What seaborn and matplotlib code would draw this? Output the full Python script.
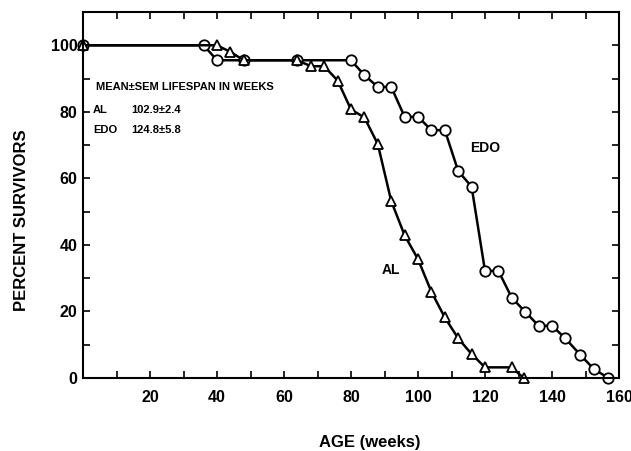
import matplotlib
matplotlib.use("Agg")
import matplotlib.pyplot as plt
import seaborn as sns
import pandas as pd

# Data
al_weeks = [0, 40, 44, 48, 64, 68, 72, 76, 80, 84, 88, 92, 96, 100, 104, 108, 112, 116, 120, 128, 131.5]
al_pct = [100, 100, 98, 95.5, 95.5, 93.7, 93.7, 89.4, 80.7, 78.3, 70.3, 53.2, 42.9, 35.7, 25.9, 18.2, 11.9, 7.2, 3.2, 3.2, 0]

edo_weeks = [0, 36, 40, 48, 64, 80, 84, 88, 92, 96, 100, 104, 108, 112, 116, 120, 124, 128, 132, 136, 140, 144, 148.5, 152.5, 156.8]
edo_pct = [100, 100, 95.5, 95.5, 95.5, 95.5, 91.0, 87.5, 87.5, 78.5, 78.5, 74.5, 74.5, 62.2, 57.5, 32.2, 32.2, 24.1, 19.9, 15.7, 15.7, 11.9, 6.9, 2.7, 0]

x_ticks = [0, 10, 20, 30, 40, 50, 60, 70, 80, 90, 100, 110, 120, 130, 140, 150, 160]
x_ticklabels = ["", "", "20", "", "40", "", "60", "", "80", "", "100", "", "120", "", "140", "", "160"]
y_ticks = [0, 10, 20, 30, 40, 50, 60, 70, 80, 90, 100]
y_ticklabels = ["0", "", "20", "", "40", "", "60", "", "80", "", "100"]

sns.set_theme(style="ticks")
plt.rcParams["font.family"] = ["Liberation Sans", "DejaVu Sans"]
plt.rcParams["font.weight"] = "bold"
plt.rcParams["text.color"] = "black"
plt.rcParams["axes.labelcolor"] = "black"

al_df = pd.DataFrame({"week": al_weeks, "pct": al_pct})
edo_df = pd.DataFrame({"week": edo_weeks, "pct": edo_pct})

fig = plt.figure(figsize=(6.31, 4.51), dpi=100)
ax = fig.add_axes([83 / 631, 1 - 378 / 451, 536 / 631, 366 / 451])

common = dict(color="black", linewidth=1.8, markerfacecolor="white",
              markeredgecolor="black", markeredgewidth=1.3, clip_on=False)
sns.lineplot(data=edo_df, x="week", y="pct", marker="o", markersize=7.5, ax=ax, **common)
sns.lineplot(data=al_df, x="week", y="pct", marker="^", markersize=7.5, ax=ax, **common)

ax.set_xlim(0, 160)
ax.set_ylim(0, 110)
ax.set_xticks(x_ticks)
ax.set_xticklabels(x_ticklabels)
ax.set_yticks(y_ticks)
ax.set_yticklabels(y_ticklabels)
ax.tick_params(direction="in", length=5, width=1.2, top=True, right=True,
               labelsize=11.5, colors="black")
ax.tick_params(axis="x", pad=9)
ax.tick_params(axis="y", pad=4)
for lab in ax.get_xticklabels() + ax.get_yticklabels():
    lab.set_fontweight("bold")
for s in ax.spines.values():
    s.set_linewidth(1.5)
    s.set_color("black")

ax.set_xlabel("AGE (weeks)", fontsize=12, fontweight="bold", color="black")
ax.set_ylabel("PERCENT SURVIVORS", fontsize=12, fontweight="bold", color="black")
ax.xaxis.set_label_coords(0.535, -0.155)
ax.yaxis.set_label_coords(-0.1, 0.43)

ax.text(4, 87.5, "MEAN\u00b1SEM LIFESPAN IN WEEKS", fontsize=8, fontweight="bold", va="center", color="black")
ax.text(3, 80.5, "AL", fontsize=8, fontweight="bold", va="center", color="black")
ax.text(14.5, 80.5, "102.9\u00b12.4", fontsize=8, fontweight="bold", va="center", color="black")
ax.text(3, 74.5, "EDO", fontsize=8, fontweight="bold", va="center", color="black")
ax.text(14.5, 74.5, "124.8\u00b15.8", fontsize=8, fontweight="bold", va="center", color="black")

ax.text(120, 69, "EDO", fontsize=10, fontweight="bold", ha="center", va="center", color="black")
ax.text(92, 32.5, "AL", fontsize=10, fontweight="bold", ha="center", va="center", color="black")

fig.savefig("out.png", dpi=100)
